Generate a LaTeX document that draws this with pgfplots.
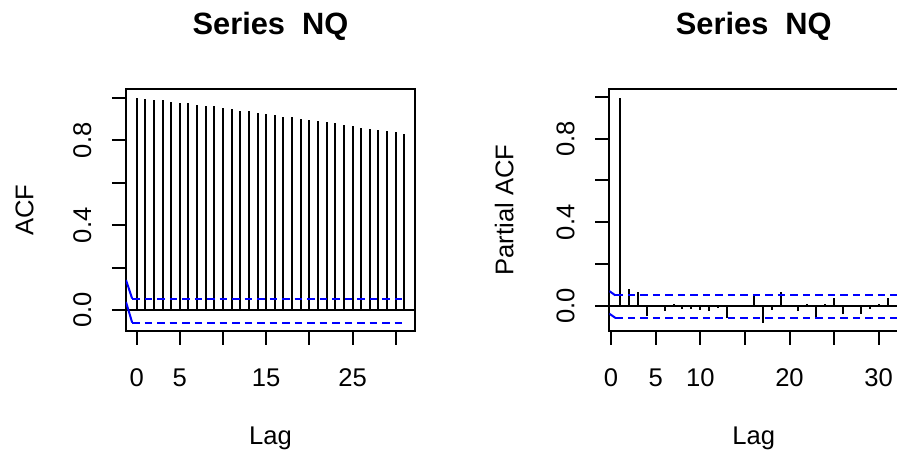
\documentclass[border=0pt]{standalone}
\usepackage{fontspec}
\setmainfont{Liberation Sans}
\usepackage{pgfplots}
\pgfplotsset{compat=1.18}
\usetikzlibrary{calc}

\pgfplotsset{
 rstyle/.style={
  scale only axis, width=144.5pt, height=121pt,
  axis line style={line width=1pt},
  every tick/.style={black, line width=1pt},
  major tick length=7pt,
  tick align=outside,
  xtick pos=left, ytick pos=left,
  minor tick num=0,
  /pgf/number format/assume math mode=true,
  tick label style={font=\fontsize{12.8}{15}\selectfont},
  label style={font=\fontsize{12.8}{15}\selectfont},
  title style={font=\fontsize{15.4}{18}\selectfont\bfseries, at={(axis description cs:0.5,1)}, anchor=base, yshift=21.35pt},
  xlabel style={at={(axis description cs:0.5,0)}, anchor=base, yshift=-57pt},
  xticklabel style={anchor=base},
  xticklabel shift=20.85pt,
  yticklabel style={rotate=90, anchor=base},
  yticklabel shift=10.5pt,
  ytick={0,0.2,0.4,0.6,0.8,1.0},
  yticklabels={0.0,,0.4,,0.8,},
  xtick={0,5,10,15,20,25,30},
 }
}

\begin{document}
\begin{tikzpicture}
\useasboundingbox (0,0) rectangle (448.5pt,226.5pt);

\begin{axis}[rstyle, at={(63pt,61pt)}, anchor=south west,
  xmin=-1.24, xmax=32.24, ymin=-0.098, ymax=1.042,
  xticklabels={0,5,,15,,25,},
  title={Series~~NQ}, xlabel={Lag}, ylabel={ACF},
  ylabel style={at={($(axis description cs:0,0.5)+(-46.35pt,0)$)}, anchor=base}]
\addplot[ycomb, black, line width=1pt, mark=none] coordinates {
(0,1.000) (1,0.995) (2,0.990) (3,0.988) (4,0.981) (5,0.976) (6,0.974) (7,0.967)
(8,0.962) (9,0.960) (10,0.953) (11,0.946) (12,0.940) (13,0.938) (14,0.931) (15,0.925)
(16,0.918) (17,0.911) (18,0.909) (19,0.902) (20,0.896) (21,0.889) (22,0.887) (23,0.880)
(24,0.874) (25,0.867) (26,0.860) (27,0.853) (28,0.851) (29,0.845) (30,0.839) (31,0.831)
};
\addplot[black, line width=1pt] coordinates {(-1.24,0) (32.24,0)};
\addplot[blue, line width=1pt] coordinates {(-1.24,0.142) (-0.53,0.055)};
\addplot[blue, line width=1pt, dash pattern=on 3.8pt off 2.45pt] coordinates {(-0.53,0.055) (31.3,0.055)};
\addplot[blue, line width=1pt] coordinates {(-1.24,0.039) (-0.53,-0.058)};
\addplot[blue, line width=1pt, dash pattern=on 3.8pt off 2.45pt] coordinates {(-0.53,-0.058) (31.3,-0.058)};
\end{axis}

\begin{axis}[rstyle, at={(304.65pt,61pt)}, anchor=south west,
  xmin=-0.2, xmax=32.2, ymin=-0.121, ymax=1.038,
  xticklabels={0,5,10,,20,,30},
  title={Series~~NQ}, xlabel={Lag}, ylabel={Partial ACF},
  ylabel style={at={($(axis description cs:0,0.5)+(-48pt,0)$)}, anchor=base}]
\addplot[ycomb, black, line width=1pt, mark=none] coordinates {
(1,0.996) (2,0.079) (3,0.064) (4,-0.047) (5,0.002) (6,-0.025) (7,0.009) (8,-0.016)
(9,-0.014) (10,-0.019) (11,-0.024) (12,-0.010) (13,-0.058) (14,0.001) (15,-0.002) (16,0.058)
(17,-0.082) (18,-0.019) (19,0.066) (20,0.002) (21,-0.024) (22,0.009) (23,-0.058) (24,0.009)
(25,0.038) (26,-0.038) (27,0.005) (28,-0.038) (29,-0.018) (30,0.009) (31,0.038)
};
\addplot[black, line width=1pt] coordinates {(-0.2,0) (32.2,0)};
\addplot[blue, line width=1pt] coordinates {(-0.2,0.070) (0.47,0.050)};
\addplot[blue, line width=1pt, dash pattern=on 3.8pt off 2.45pt] coordinates {(0.47,0.050) (32.2,0.050)};
\addplot[blue, line width=1pt] coordinates {(-0.2,-0.038) (0.47,-0.058)};
\addplot[blue, line width=1pt, dash pattern=on 3.8pt off 2.45pt] coordinates {(0.47,-0.058) (32.2,-0.058)};
\end{axis}
\end{tikzpicture}
\end{document}
